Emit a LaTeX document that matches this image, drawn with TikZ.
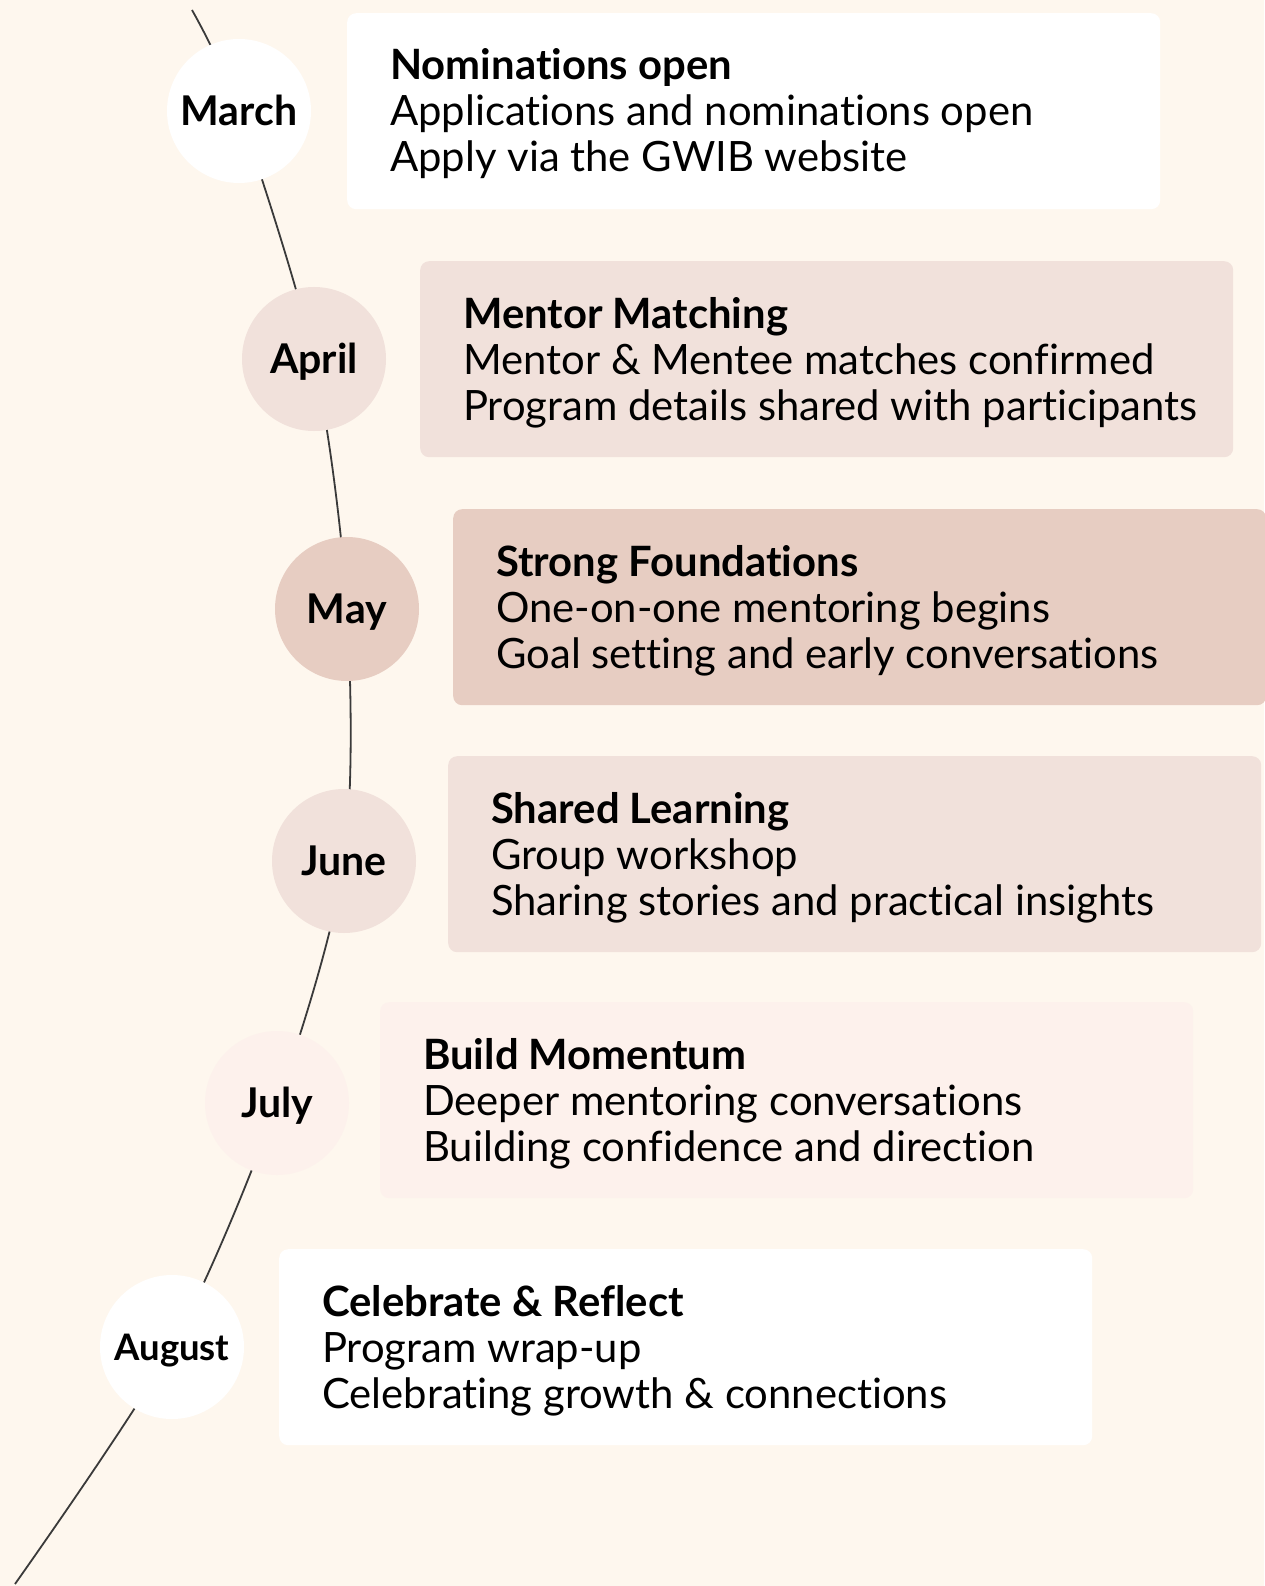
\documentclass[tikz,border=0pt]{standalone}
\usepackage{fontspec}
\setmainfont[Ligatures=CommonOff]{Lato}
\definecolor{bg}{HTML}{FEF7EE}
\definecolor{cA}{HTML}{F1E1DB}
\definecolor{cB}{HTML}{E7CDC2}
\definecolor{cC}{HTML}{FDF1EC}
\definecolor{linec}{HTML}{3A3A3A}
\begin{document}
\begin{tikzpicture}[x=1pt,y=-1pt,
  card/.style={anchor=north west, rounded corners=9pt, minimum width=813pt, minimum height=196pt, inner sep=0pt},
  cardtext/.style={anchor=base west, align=left, inner sep=0pt, font=\fontsize{41.8}{46}\selectfont},
  month/.style={circle, minimum size=144pt, inner sep=0pt, text height=29pt, text depth=0pt, font=\bfseries\fontsize{41}{41}\selectfont},
  timeline/.style={draw=linec, line width=1.8pt}
]
\fill[bg] (0,0) rectangle (1264,1586);
\useasboundingbox (0,0) rectangle (1264,1586);

% timeline anchor points
\coordinate (top) at (192,10);
\coordinate (bot) at (15,1584);
\coordinate (p1) at (239,111);
\coordinate (p2) at (314,359);
\coordinate (p3) at (347,609);
\coordinate (p4) at (344,861);
\coordinate (p5) at (277,1103);
\coordinate (p6) at (172,1347);
\draw[timeline] plot[smooth, tension=0.5] coordinates {(top) (p1) (p2) (p3) (p4) (p5) (p6) (bot)};

% months
\node[month, fill=white] (mar) at (p1) {March};
\node[month, fill=cA] (apr) at (p2) {April};
\node[month, fill=cB] (may) at (p3) {May};
\node[month, fill=cA] (jun) at (p4) {June};
\node[month, fill=cC] (jul) at (p5) {July};
\node[month, fill=white, text height=26pt, font=\bfseries\fontsize{36.5}{36.5}\selectfont] (aug) at (p6) {August};

% cards
\node[card, fill=white] (b1) at (347,13) {};
\node[card, fill=cA] (b2) at (420,261) {};
\node[card, fill=cB] (b3) at (453,509) {};
\node[card, fill=cA] (b4) at (448,756) {};
\node[card, fill=cC] (b5) at (380,1002) {};
\node[card, fill=white] (b6) at (279,1249) {};

\node[cardtext] (t1) at ([shift={(43,159)}]b1.north west) {\textbf{Nominations open}\\Applications and nominations open\\Apply via the GWIB website};
\node[cardtext] (t2) at ([shift={(43,159)}]b2.north west) {\textbf{Mentor Matching}\\Mentor \& Mentee matches confirmed\\Program details shared with participants};
\node[cardtext] (t3) at ([shift={(43,159)}]b3.north west) {\textbf{Strong Foundations}\\One-on-one mentoring begins\\Goal setting and early conversations};
\node[cardtext] (t4) at ([shift={(43,159)}]b4.north west) {\textbf{Shared Learning}\\Group workshop\\Sharing stories and practical insights};
\node[cardtext] (t5) at ([shift={(43,159)}]b5.north west) {\textbf{Build Momentum}\\Deeper mentoring conversations\\Building confidence and direction};
\node[cardtext] (t6) at ([shift={(43,159)}]b6.north west) {\textbf{Celebrate \& Reflect}\\Program wrap-up\\Celebrating growth \& connections};
\end{tikzpicture}
\end{document}
